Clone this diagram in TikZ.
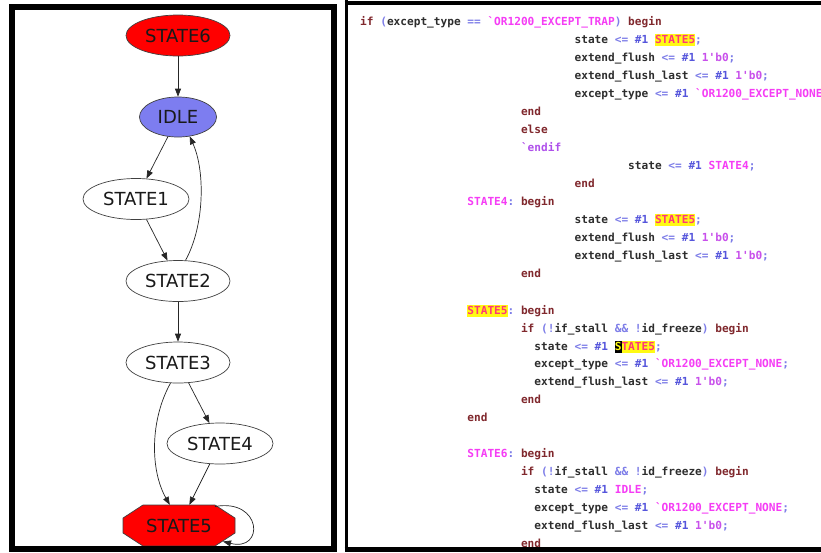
\documentclass[tikz,border=0pt]{standalone}
\usepackage{fontspec}
\setmonofont{DejaVu Sans Mono}
\newfontfamily\statefont{DejaVu Sans}
\usetikzlibrary{arrows.meta,shapes.geometric,calc}
\frenchspacing

% graph colours
\definecolor{stred}{RGB}{255,0,0}
\definecolor{stblue}{RGB}{125,125,240}
% editor syntax colours
\definecolor{ckw}{RGB}{128,40,45}
\definecolor{cid}{RGB}{45,45,45}
\definecolor{cop}{RGB}{125,125,232}
\definecolor{cnum}{RGB}{85,85,220}
\definecolor{clit}{RGB}{200,80,235}
\definecolor{cmac}{RGB}{245,60,245}
\definecolor{cdir}{RGB}{175,80,235}
\definecolor{hlyel}{RGB}{255,250,20}
\definecolor{hltxt}{RGB}{255,55,120}

\newcommand\codekw[1]{\textcolor{ckw}{#1}}
\newcommand\codeop[1]{\textcolor{cop}{#1}}
\newcommand\codenum[1]{\textcolor{cnum}{#1}}
\newcommand\codelit[1]{\textcolor{clit}{#1}}
\newcommand\codemac[1]{\textcolor{cmac}{#1}}
\newcommand\codedir[1]{\textcolor{cdir}{#1}}
\newcommand\codehl[1]{{\setlength{\fboxsep}{0pt}\colorbox{hlyel}{\rule[-3pt]{0pt}{12pt}\textcolor{hltxt}{#1}}}}
\newcommand\codecur[1]{{\setlength{\fboxsep}{0pt}\colorbox{black}{\rule[-3pt]{0pt}{12pt}\textcolor{hlyel}{#1}}}}

\tikzset{
  stnode/.style={ellipse, draw=black!75, line width=0.7pt, inner sep=0pt,
    minimum height=41pt, font=\statefont\fontsize{18}{20}\selectfont, text=black!90},
  edge/.style={draw=black!85, line width=0.7pt, -{Triangle[length=8pt,width=6pt]}},
  codeline/.style={anchor=base west, inner sep=0pt,
    font=\ttfamily\bfseries\fontsize{11.13}{13}\selectfont, text=cid},
}

\begin{document}
\begin{tikzpicture}[x=1pt,y=-1pt]
\useasboundingbox (0,0) rectangle (821,552);
\fill[white] (0,0) rectangle (821,552);

% ---------------- state graph ----------------
\node[stnode, fill=stred, minimum width=104pt] (s6) at (178,35.5) {STATE6};
\node[stnode, fill=stblue, minimum width=77pt, minimum height=40pt] (idle) at (178,117) {IDLE};
\node[stnode, fill=white, minimum width=106pt] (s1) at (136,199) {STATE1};
\node[stnode, fill=white, minimum width=104pt] (s2) at (178,281) {STATE2};
\node[stnode, fill=white, minimum width=104pt] (s3) at (178,362.5) {STATE3};
\node[stnode, fill=white, minimum width=106pt] (s4) at (220,443.5) {STATE4};

% octagonal final state
\filldraw[fill=stred, draw=black!75, line width=0.7pt]
  (143,505) -- (215,505) -- (235,518) -- (235,533) -- (215,546)
  -- (143,546) -- (123,533) -- (123,518) -- cycle;
\node[rectangle, inner sep=0pt, minimum width=112pt, minimum height=41pt,
  font=\statefont\fontsize{18}{20}\selectfont, text=black!90] (s5) at (179,525.5) {STATE5};

\draw[edge] (s6) -- (idle);
\draw[edge] (idle) -- (s1);
\draw[edge] (s1) -- (s2);
\draw[edge] (s2.70) .. controls (205,225) and (205,170) .. (idle.-59);
\draw[edge] (s2) -- (s3);
\draw[edge] (s3) -- (s4);
\draw[edge] (s3.250) .. controls (150,420) and (150,470) .. (s5.114);
\draw[edge] (s4) -- (s5);
\draw[edge] ($(s5.center)+(36,-19)$) .. controls (262,498) and (265,552) .. ($(s5.center)+(44,16)$);

\draw[line width=6pt] (12,6.5) rectangle (334,548.5);

% ---------------- source listing ----------------
\node[codeline] (l1) at (360,25) {\codekw{if} \codeop{(}except\_type \codeop{==} \codemac{`OR1200\_EXCEPT\_TRAP}\codeop{)} \codekw{begin}};
\node[codeline] (l2) at (574.4,43) {state \codeop{<=} \codenum{\#1} \codehl{STATE5}\codeop{;}};
\node[codeline] (l3) at (574.4,61) {extend\_flush \codeop{<=} \codenum{\#1} \codelit{1'b0}\codeop{;}};
\node[codeline] (l4) at (574.4,79) {extend\_flush\_last \codeop{<=} \codenum{\#1} \codelit{1'b0}\codeop{;}};
\node[codeline] (l5) at (574.4,97) {except\_type \codeop{<=} \codenum{\#1} \codemac{`OR1200\_EXCEPT\_NONE}\codeop{;}};
\node[codeline] (l6) at (520.8,115) {\codekw{end}};
\node[codeline] (l7) at (520.8,133) {\codekw{else}};
\node[codeline] (l8) at (520.8,151) {\codedir{`endif}};
\node[codeline] (l9) at (628,169) {state \codeop{<=} \codenum{\#1} \codemac{STATE4}\codeop{;}};
\node[codeline] (l10) at (574.4,187) {\codekw{end}};
\node[codeline] (l11) at (467.2,205) {\codemac{STATE4}\codeop{:} \codekw{begin}};
\node[codeline] (l12) at (574.4,223) {state \codeop{<=} \codenum{\#1} \codehl{STATE5}\codeop{;}};
\node[codeline] (l13) at (574.4,241) {extend\_flush \codeop{<=} \codenum{\#1} \codelit{1'b0}\codeop{;}};
\node[codeline] (l14) at (574.4,259) {extend\_flush\_last \codeop{<=} \codenum{\#1} \codelit{1'b0}\codeop{;}};
\node[codeline] (l15) at (520.8,277) {\codekw{end}};
\node[codeline] (l17) at (467.2,314) {\codehl{STATE5}\codeop{:} \codekw{begin}};
\node[codeline] (l18) at (520.8,332) {\codekw{if} \codeop{(!}if\_stall \codeop{\&\&} \codeop{!}id\_freeze\codeop{)} \codekw{begin}};
\node[codeline] (l19) at (534.2,350) {state \codeop{<=} \codenum{\#1} \codecur{S}\codehl{TATE5}\codeop{;}};
\node[codeline] (l20) at (534.2,367) {except\_type \codeop{<=} \codenum{\#1} \codemac{`OR1200\_EXCEPT\_NONE}\codeop{;}};
\node[codeline] (l21) at (534.2,385) {extend\_flush\_last \codeop{<=} \codenum{\#1} \codelit{1'b0}\codeop{;}};
\node[codeline] (l22) at (520.8,403) {\codekw{end}};
\node[codeline] (l23) at (467.2,421) {\codekw{end}};
\node[codeline] (l25) at (467.2,457) {\codemac{STATE6}\codeop{:} \codekw{begin}};
\node[codeline] (l26) at (520.8,475) {\codekw{if} \codeop{(!}if\_stall \codeop{\&\&} \codeop{!}id\_freeze\codeop{)} \codekw{begin}};
\node[codeline] (l27) at (534.2,493) {state \codeop{<=} \codenum{\#1} \codemac{IDLE}\codeop{;}};
\node[codeline] (l28) at (534.2,511) {except\_type \codeop{<=} \codenum{\#1} \codemac{`OR1200\_EXCEPT\_NONE}\codeop{;}};
\node[codeline] (l29) at (534.2,529) {extend\_flush\_last \codeop{<=} \codenum{\#1} \codelit{1'b0}\codeop{;}};
\node[codeline] (l30) at (520.8,547) {\codekw{end}};

% editor frame
\draw[line width=3pt] (346,0) -- (346,552);
\draw[line width=4pt] (344.5,3) -- (830,3);
\draw[line width=5pt] (344.5,549.5) -- (830,549.5);
\end{tikzpicture}
\end{document}
